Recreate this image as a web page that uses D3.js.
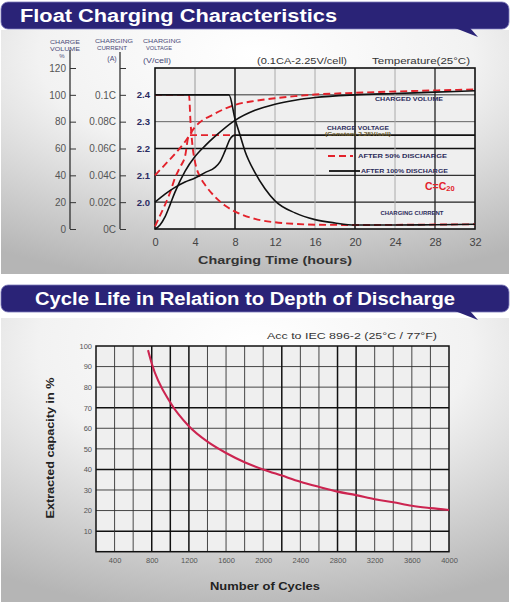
<!DOCTYPE html>
<html><head><meta charset="utf-8">
<script src="https://cdn.jsdelivr.net/npm/d3@7"></script>
<style>body{margin:0;background:#fff}svg{display:block}text{font-family:"Liberation Sans",Arial,Helvetica,sans-serif}</style>
</head><body><script>
// ---------------- DATA: Float charging ----------------
const hourTicks = [0,4,8,12,16,20,24,28,32];
const volumeTicks = [0,20,40,60,80,100,120];
const currentTicks = [0,0.02,0.04,0.06,0.08,0.1,0.12];
const currentLabels = ["0C","0.02C","0.04C","0.06C","0.08C","0.1C",""];
const voltageTicks = [2.0,2.1,2.2,2.3,2.4];

// after 50% discharge (red dashed)
const vol50Hours = [0,1,2,3,4,6,8,10,12,14,16,20,24,28,32];
const vol50 = [40,48,56,65,76,86,92.5,95.5,97.5,99,100.2,101.5,102.5,103.3,104];
const volt50Hours = [0,0.5,1,1.5,2,2.5,3,3.4,8];
const volt50 = [1.91,1.95,1.99,2.035,2.09,2.13,2.17,2.25,2.25];
const cur50Hours = [0,3.4,3.55,3.75,4,4.5,5,6,7,8,10,12,14,16,20,24,28,32];
const cur50 = [0.1,0.1,0.08,0.062,0.05,0.039,0.033,0.024,0.0175,0.013,0.0075,0.005,0.0038,0.0032,0.003,0.0031,0.0033,0.0035];

// after 100% discharge (black solid)
const vol100Hours = [0,0.5,1,1.5,2,3,4,5,6,8,10,12,14,16,20,24,28,32];
const vol100 = [0,3,9,18,27.5,43,54,62,69,81,88.5,93,96,98,100,101,102,103];
const volt100Hours = [0,1,2,3,4,5,6,6.5,7,7.5,8,32];
const volt100 = [2.0,2.03,2.055,2.075,2.09,2.11,2.13,2.15,2.19,2.235,2.25,2.25];
const cur100Hours = [0,7.4,8,8.5,9,10,11,12,14,16,18,20,24,28,32];
const cur100 = [0.1,0.1,0.082,0.07,0.058,0.042,0.03,0.021,0.012,0.007,0.0045,0.003,0.003,0.0032,0.0035];

// ---------------- DATA: Cycle life ----------------
const cycleTicks = [400,800,1200,1600,2000,2400,2800,3200,3600,4000];
const capacityTicks = [10,20,30,40,50,60,70,80,90,100];
const cycles = [760,800,1000,1200,1400,1600,1800,2000,2200,2400,2600,2800,3000,3200,3400,3600,3800,4000];
const capacity = [98,91.5,72.5,61,53.5,48,43.5,40,37,34,31.5,29.2,27.5,25.5,24,22.3,21.2,20.3];

// ---------------- DRAW ----------------
const W=513,H=607;
const svg=d3.select("body").append("svg").attr("width",W).attr("height",H);
const defs=svg.append("defs");
const rg=defs.append("radialGradient").attr("id","pg").attr("cx","50%").attr("cy","10%").attr("r","95%");
rg.append("stop").attr("offset","0%").attr("stop-color","#ffffff");
rg.append("stop").attr("offset","45%").attr("stop-color","#f2f2f2");
rg.append("stop").attr("offset","100%").attr("stop-color","#b5b5b5");

const font='"Liberation Sans",Arial,sans-serif';
const navy="#2a2377";

function banner(y0,title,tx,tlen){
  svg.append("rect").attr("x",1).attr("y",y0).attr("width",508).attr("height",27).attr("rx",7)
    .attr("fill",navy).attr("stroke","#7a76b8").attr("stroke-width",0.8);
  svg.append("path").attr("d",`M455,${y0+26} L478,${y0+35} L470,${y0+26} Z`).attr("fill",navy);
  svg.append("text").attr("x",tx).attr("y",y0+20).attr("fill","#fff").attr("font-weight","bold")
    .attr("font-size",17.5).attr("textLength",tlen).attr("lengthAdjust","spacingAndGlyphs").text(title);
}

// panels
svg.append("rect").attr("x",1).attr("y",30).attr("width",508).attr("height",244).attr("fill","url(#pg)");
svg.append("rect").attr("x",1).attr("y",318).attr("width",508).attr("height",284).attr("fill","url(#pg)");
banner(2,"Float Charging Characteristics",20,317);
banner(285,"Cycle Life in Relation to Depth of Discharge",35,420);

// ===== Chart 1 =====
const x1=d3.scaleLinear().domain([0,32]).range([155,475]);
const yV=d3.scaleLinear().domain([0,120]).range([229,68]);
const yC=d3.scaleLinear().domain([0,0.12]).range([229,68]);
const yU=d3.scaleLinear().domain([1.9,2.5]).range([229,68]);
const g1=svg.append("g");
g1.append("rect").attr("x",x1(0)).attr("y",yV(120)).attr("width",x1(32)-x1(0)).attr("height",yV(0)-yV(120)).attr("fill","#efefef");

const hStyle={20:["#222",1.2],40:["#333",1.1],60:["#111",1.5],80:["#555",0.9],100:["#333",1]};
[20,40,60,80,100].forEach(v=>g1.append("line").attr("x1",x1(0)).attr("x2",x1(32)).attr("y1",yV(v)).attr("y2",yV(v))
  .attr("stroke",hStyle[v][0]).attr("stroke-width",hStyle[v][1]));
const vStyle={4:["#999",1],8:["#111",1.5],12:["#aaa",1],16:["#aaa",1],20:["#111",1.5],24:["#aaa",1],28:["#222",1.3]};
[4,8,12,16,20,24,28].forEach(h=>g1.append("line").attr("x1",x1(h)).attr("x2",x1(h)).attr("y1",yV(120)).attr("y2",yV(0))
  .attr("stroke",vStyle[h][0]).attr("stroke-width",vStyle[h][1]));
g1.append("rect").attr("x",x1(0)).attr("y",yV(120)).attr("width",x1(32)-x1(0)).attr("height",yV(0)-yV(120))
  .attr("fill","none").attr("stroke","#111").attr("stroke-width",1.6);

const red="#e3222b";
function curve(xs,ys,ysc,color,dash,w){
  const pts=xs.map((h,i)=>[h,ys[i]]);
  const ln=d3.line().x(d=>x1(d[0])).y(d=>ysc(d[1])).curve(d3.curveMonotoneX);
  g1.append("path").attr("d",ln(pts)).attr("fill","none").attr("stroke",color).attr("stroke-width",w)
    .attr("stroke-dasharray",dash||null);
}
curve(vol50Hours,vol50,yV,red,"7,4",1.9);
curve(volt50Hours,volt50,yU,red,"7,4",1.9);
curve(cur50Hours,cur50,yC,red,"7,4",1.9);
curve(vol100Hours,vol100,yV,"#111",null,1.6);
curve(volt100Hours,volt100,yU,"#111",null,1.6);
curve(cur100Hours,cur100,yC,"#111",null,1.6);

// x axis
const ax1=g1.append("g").attr("transform",`translate(0,${yV(0)})`)
  .call(d3.axisBottom(x1).tickValues(hourTicks).tickSize(0).tickPadding(9));
ax1.select(".domain").remove();
ax1.selectAll("text").attr("font-size",11).attr("fill","#444").attr("font-family",font);
g1.append("text").attr("x",275).attr("y",264).attr("text-anchor","middle").attr("font-weight","bold")
  .attr("font-size",11.5).attr("fill","#333").attr("textLength",154).attr("lengthAdjust","spacingAndGlyphs").text("Charging Time (hours)");

// volume axis
const axV=g1.append("g").attr("transform","translate(70,0)")
  .call(d3.axisLeft(yV).tickValues(volumeTicks).tickSizeInner(-6).tickSizeOuter(0).tickPadding(4));
axV.select(".domain").attr("d",`M0,50V${yV(0)}`).attr("stroke","#222").attr("stroke-width",1.2);
axV.selectAll(".tick line").attr("stroke","#333");
axV.selectAll("text").attr("font-size",10).attr("fill","#555").attr("font-family",font);

// current axis
const axC=g1.append("g").attr("transform","translate(120,0)")
  .call(d3.axisLeft(yC).tickValues(currentTicks).tickFormat((d,i)=>currentLabels[i]).tickSizeInner(-6).tickSizeOuter(0).tickPadding(4));
axC.select(".domain").attr("d",`M0,52V${yC(0)}`).attr("stroke","#222").attr("stroke-width",1.2);
axC.selectAll(".tick line").attr("stroke","#333");
axC.selectAll("text").attr("font-size",10).attr("fill","#555").attr("font-family",font);

// voltage labels
const axU=g1.append("g").attr("transform","translate(150,0)")
  .call(d3.axisLeft(yU).tickValues(voltageTicks).tickFormat(d3.format(".1f")).tickSize(0).tickPadding(0));
axU.select(".domain").remove();
axU.selectAll("text").attr("font-size",9.5).attr("font-weight","bold").attr("fill","#2b2b62").attr("font-family",font);

// header labels
function tiny(x,y,t,size,anchor,fill,len){
  const e=g1.append("text").attr("x",x).attr("y",y).attr("font-size",size).attr("text-anchor",anchor||"middle")
    .attr("fill",fill||"#4a4a78").text(t);
  if(len) e.attr("textLength",len).attr("lengthAdjust","spacingAndGlyphs");
  return e;
}
tiny(65,44,"CHARGE",6,"middle","#4a4a78",30);
tiny(65,51,"VOLUME",6,"middle","#4a4a78",30);
tiny(62,58,"%",6,"middle","#4a4a78");
tiny(114,43,"CHARGING",6,"middle","#4a4a78",38);
tiny(112,50,"CURRENT",5.5,"middle","#4a4a78",30);
tiny(112,61,"(A)",7,"middle","#4a4a78");
tiny(162,43,"CHARGING",6,"middle","#4a4a78",38);
tiny(159,50,"VOLTAGE",5.5,"middle","#4a4a78",26);
tiny(157,63,"(V/cell)",7.5,"middle","#4a4a78",28);
tiny(302,64,"(0.1CA-2.25V/cell)",9,"middle","#333",90);
tiny(421,64,"Temperature(25°C)",9,"middle","#333",98);

// in-chart annotations
tiny(x1(25.4),yV(95.5),"CHARGED VOLUME",5,"middle","#2b2b5a",68).attr("font-weight","bold");
tiny(x1(20.3),yV(73.5),"CHARGE VOLTAGE",5,"middle","#2b2b5a",62).attr("font-weight","bold");
tiny(x1(20.3),yV(69),"(Constant 2.25V/cell)",5,"middle","#6a5a2a",66).attr("font-weight","bold");
tiny(x1(25.7),yV(10.5),"CHARGING CURRENT",4.8,"middle","#2b2b5a",63).attr("font-weight","bold");

// legend
g1.append("line").attr("x1",328).attr("x2",353).attr("y1",156).attr("y2",156).attr("stroke",red).attr("stroke-width",1.9).attr("stroke-dasharray","7,4");
g1.append("line").attr("x1",329).attr("x2",360).attr("y1",171).attr("y2",171).attr("stroke","#111").attr("stroke-width",1.8);
tiny(358,158,"AFTER 50% DISCHARGE",5,"start","#2b2b5a",89).attr("font-weight","bold");
tiny(361,173,"AFTER 100% DISCHARGE",5,"start","#2b2b5a",87).attr("font-weight","bold");
const cc=g1.append("text").attr("x",425).attr("y",190).attr("font-size",10.5).attr("font-weight","bold").attr("fill",red);
cc.append("tspan").text("C=C");
cc.append("tspan").attr("font-size",7.5).attr("dy",1).text("20");

// ===== Chart 2 =====
const x2=d3.scaleLinear().domain([200,4000]).range([96,449]);
const y2=d3.scaleLinear().domain([0,100]).range([551.7,346]);
const g2=svg.append("g");
g2.append("rect").attr("x",x2(200)).attr("y",y2(100)).attr("width",x2(4000)-x2(200)).attr("height",y2(0)-y2(100)).attr("fill","#efefef");
d3.range(10,100,10).forEach(v=>{
  const bold=[10,40,70].includes(v);
  g2.append("line").attr("x1",x2(200)).attr("x2",x2(4000)).attr("y1",y2(v)).attr("y2",y2(v))
    .attr("stroke",bold?"#111":"#333").attr("stroke-width",bold?1.5:0.9);
});
d3.range(400,4000,200).forEach(c=>{
  const bold=[800,1000,1200,2200,2800,3000].includes(c);
  g2.append("line").attr("x1",x2(c)).attr("x2",x2(c)).attr("y1",y2(100)).attr("y2",y2(0))
    .attr("stroke",bold?"#111":"#333").attr("stroke-width",bold?1.5:0.9);
});
g2.append("rect").attr("x",x2(200)).attr("y",y2(100)).attr("width",x2(4000)-x2(200)).attr("height",y2(0)-y2(100))
  .attr("fill","none").attr("stroke","#111").attr("stroke-width",1.5);

const ln2=d3.line().x((d,i)=>x2(cycles[i])).y((d,i)=>y2(capacity[i])).curve(d3.curveMonotoneX);
g2.append("path").attr("d",ln2(cycles)).attr("fill","none").attr("stroke","#cc2450").attr("stroke-width",2.1);

const ay2=g2.append("g").attr("transform",`translate(${x2(200)},0)`)
  .call(d3.axisLeft(y2).tickValues(capacityTicks).tickSize(0).tickPadding(4));
ay2.select(".domain").remove();
ay2.selectAll("text").attr("font-size",7.5).attr("fill","#555").attr("font-family",font);
const ax2=g2.append("g").attr("transform",`translate(0,${y2(0)})`)
  .call(d3.axisBottom(x2).tickValues(cycleTicks).tickFormat(d3.format("d")).tickSize(0).tickPadding(6));
ax2.select(".domain").remove();
ax2.selectAll("text").attr("font-size",7.5).attr("fill","#555").attr("font-family",font);

g2.append("text").attr("x",265).attr("y",590).attr("text-anchor","middle").attr("font-weight","bold")
  .attr("font-size",11.5).attr("fill","#222").attr("textLength",110).attr("lengthAdjust","spacingAndGlyphs").text("Number of Cycles");
g2.append("text").attr("transform","translate(54,448) rotate(-90)").attr("text-anchor","middle").attr("font-weight","bold")
  .attr("font-size",11.5).attr("fill","#222").attr("textLength",141).attr("lengthAdjust","spacingAndGlyphs").text("Extracted capacity in %");
g2.append("text").attr("x",352).attr("y",339).attr("text-anchor","middle")
  .attr("font-size",9.5).attr("fill","#333").attr("textLength",170).attr("lengthAdjust","spacingAndGlyphs").text("Acc to IEC 896-2 (25°C / 77°F)");
</script></body></html>
